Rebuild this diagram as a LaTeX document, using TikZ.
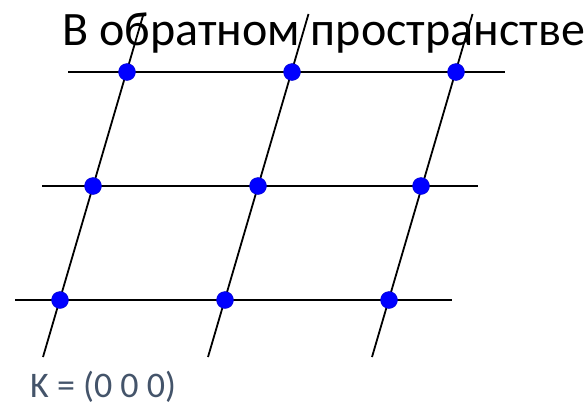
\documentclass[tikz,border=0pt]{standalone}
\usepackage{fontspec}
\setmainfont{Carlito}
\begin{document}
\begin{tikzpicture}[x=1pt,y=-1pt,
  gridline/.style={line width=1.8pt,black},
  latdot/.style={circle,fill=blue,draw=blue!80!black,line width=0.4pt,minimum size=17pt,inner sep=0pt},
  titletext/.style={font=\fontsize{48}{56}\selectfont,anchor=base west,inner sep=0pt},
  labeltext/.style={font=\fontsize{36}{42}\selectfont,text=kgray,anchor=base west,inner sep=0pt}]
\definecolor{kgray}{HTML}{44546A}
\useasboundingbox (0,0) rectangle (586,407);
% horizontal line end coordinates
\coordinate (h1a) at (68,72);  \coordinate (h1b) at (505,72);
\coordinate (h2a) at (42,186); \coordinate (h2b) at (478,186);
\coordinate (h3a) at (15,300); \coordinate (h3b) at (452,300);
% slanted line end coordinates
\coordinate (s1a) at (143.5,14); \coordinate (s1b) at (43,357);
\coordinate (s2a) at (308.5,14); \coordinate (s2b) at (208,357);
\coordinate (s3a) at (472.5,14); \coordinate (s3b) at (372,357);
\draw[gridline] (h1a) -- (h1b);
\draw[gridline] (h2a) -- (h2b);
\draw[gridline] (h3a) -- (h3b);
\node[titletext] (title) at (62,45) {В обратном пространстве};
\draw[gridline] (s1a) -- (s1b);
\draw[gridline] (s2a) -- (s2b);
\draw[gridline] (s3a) -- (s3b);
\node[latdot] (d11) at (127,72) {};
\node[latdot] (d12) at (292,72) {};
\node[latdot] (d13) at (456,72) {};
\node[latdot] (d21) at (93,186) {};
\node[latdot] (d22) at (258,186) {};
\node[latdot] (d23) at (421,186) {};
\node[latdot] (d31) at (60,300) {};
\node[latdot] (d32) at (225,300) {};
\node[latdot] (d33) at (389,300) {};
\node[labeltext] (klabel) at (30,397) {K = (0 0 0)};
\end{tikzpicture}
\end{document}
